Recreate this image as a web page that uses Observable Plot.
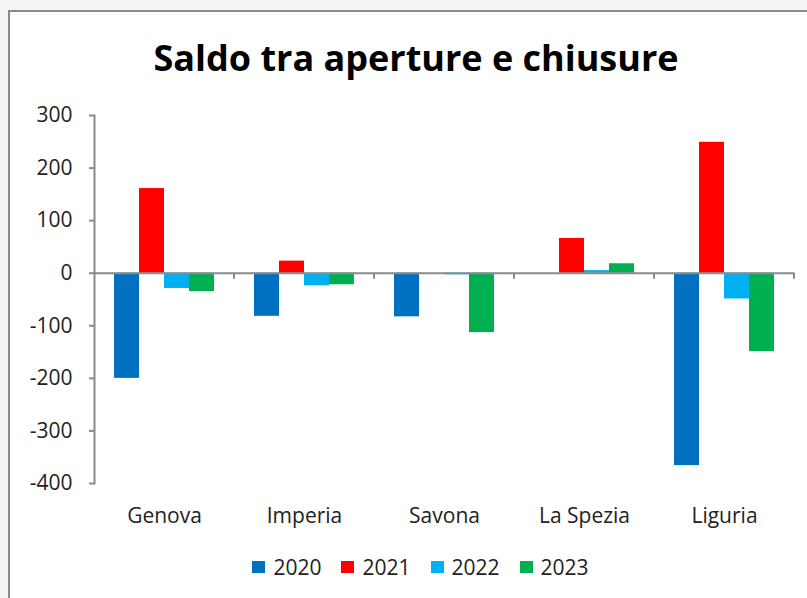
<!DOCTYPE html>
<html>
<head>
<meta charset="utf-8">
<script src="https://cdn.jsdelivr.net/npm/d3@7"></script>
<script src="https://cdn.jsdelivr.net/npm/@observablehq/plot@0.6"></script>
<style>
  html, body { margin: 0; padding: 0; }
  body { width: 807px; height: 598px; overflow: hidden; background: #f4f4f4; position: relative; font-family: "Open Sans", sans-serif; }
  #frame { position: absolute; left: 8px; top: 10px; width: 820px; height: 610px; background: #fff; border-left: 2px solid #8a8a8a; border-top: 2px solid #8a8a8a; }
  #title { position: absolute; top: 40px; left: 416px; transform: translateX(-50%); white-space: nowrap; font: bold 36px "Open Sans", sans-serif; line-height: 1; color: #000; }
  #chart { position: absolute; left: 0; top: 0; }
  #legend { position: absolute; left: 0; top: 550px; width: 841px; }
  #legend div { justify-content: center !important; min-height: 34px !important; margin: 0 !important; font: 21px "Open Sans", sans-serif !important; color: #222 !important; }
  #legend span { margin-right: 20px !important; font-size: 21px !important; }
  #legend span:last-child { margin-right: 0 !important; }
  #legend svg { margin-right: 8px !important; width: 13px !important; height: 12px !important; }
</style>
</head>
<body>
<div id="frame"></div>
<div id="title">Saldo tra aperture e chiusure</div>
<div id="chart"></div>
<div id="legend"></div>
<script>
const categories = ["Genova", "Imperia", "Savona", "La Spezia", "Liguria"];
const years = ["2020", "2021", "2022", "2023"];
const v2020 = [-200, -82, -83, 0, -366];
const v2021 = [161, 23, 0, 66, 249];
const v2022 = [-29, -24, -3, 5, -49];
const v2023 = [-35, -22, -113, 18, -149];
const yTicks = [-400, -300, -200, -100, 0, 100, 200, 300];
const colors = ["#0070C0", "#FF0000", "#00B0F0", "#00B050"];

const series = [v2020, v2021, v2022, v2023];
const data = [];
categories.forEach((c, i) => years.forEach((y, j) => data.push({cat: c, year: y, value: series[j][i]})));

const axisGray = "#8a8a8a";

function boundaryTicks(index, scales, values, dimensions) {
  const g = d3.create("svg:g");
  const xr = scales.x.range();
  const y0 = scales.y(0);
  g.append("line")
    .attr("x1", xr[1]).attr("x2", xr[1])
    .attr("y1", y0).attr("y2", y0 + 6)
    .attr("stroke", axisGray).attr("stroke-width", 2);
  return g.node();
}

const chart = Plot.plot({
  width: 807,
  height: 540,
  marginTop: 115,
  marginBottom: 57,
  marginLeft: 93,
  marginRight: 12,
  style: {fontFamily: "'Open Sans', sans-serif", fontSize: "21px", background: "transparent", overflow: "visible"},
  fx: {domain: categories, padding: 0, axis: null},
  x: {domain: years, paddingInner: 0, paddingOuter: 0.74, axis: null},
  y: {domain: [-400, 300], axis: null},
  color: {domain: years, range: colors},
  marks: [
    Plot.barY(data, {fx: "cat", x: "year", y: "value", fill: "year"}),
    Plot.ruleY([0], {stroke: axisGray, strokeWidth: 2}),
    boundaryTicks,
    Plot.frame({anchor: "left", facetAnchor: "left", stroke: axisGray, strokeWidth: 2}),
    Plot.axisY({ticks: yTicks, tickSize: 5, tickPadding: 17, tickFormat: d => String(d), stroke: axisGray, strokeWidth: 2, fill: "#222", fontSize: 21, label: null}),
    Plot.axisFx({anchor: "bottom", tickSize: 0, tickPadding: 25, fill: "#222", fontSize: 21, label: null})
  ]
});
document.getElementById("chart").appendChild(chart);

const legend = Plot.legend({color: {domain: years, range: colors}, legend: "swatches", swatchSize: 12});
document.getElementById("legend").appendChild(legend);
</script>
</body>
</html>
